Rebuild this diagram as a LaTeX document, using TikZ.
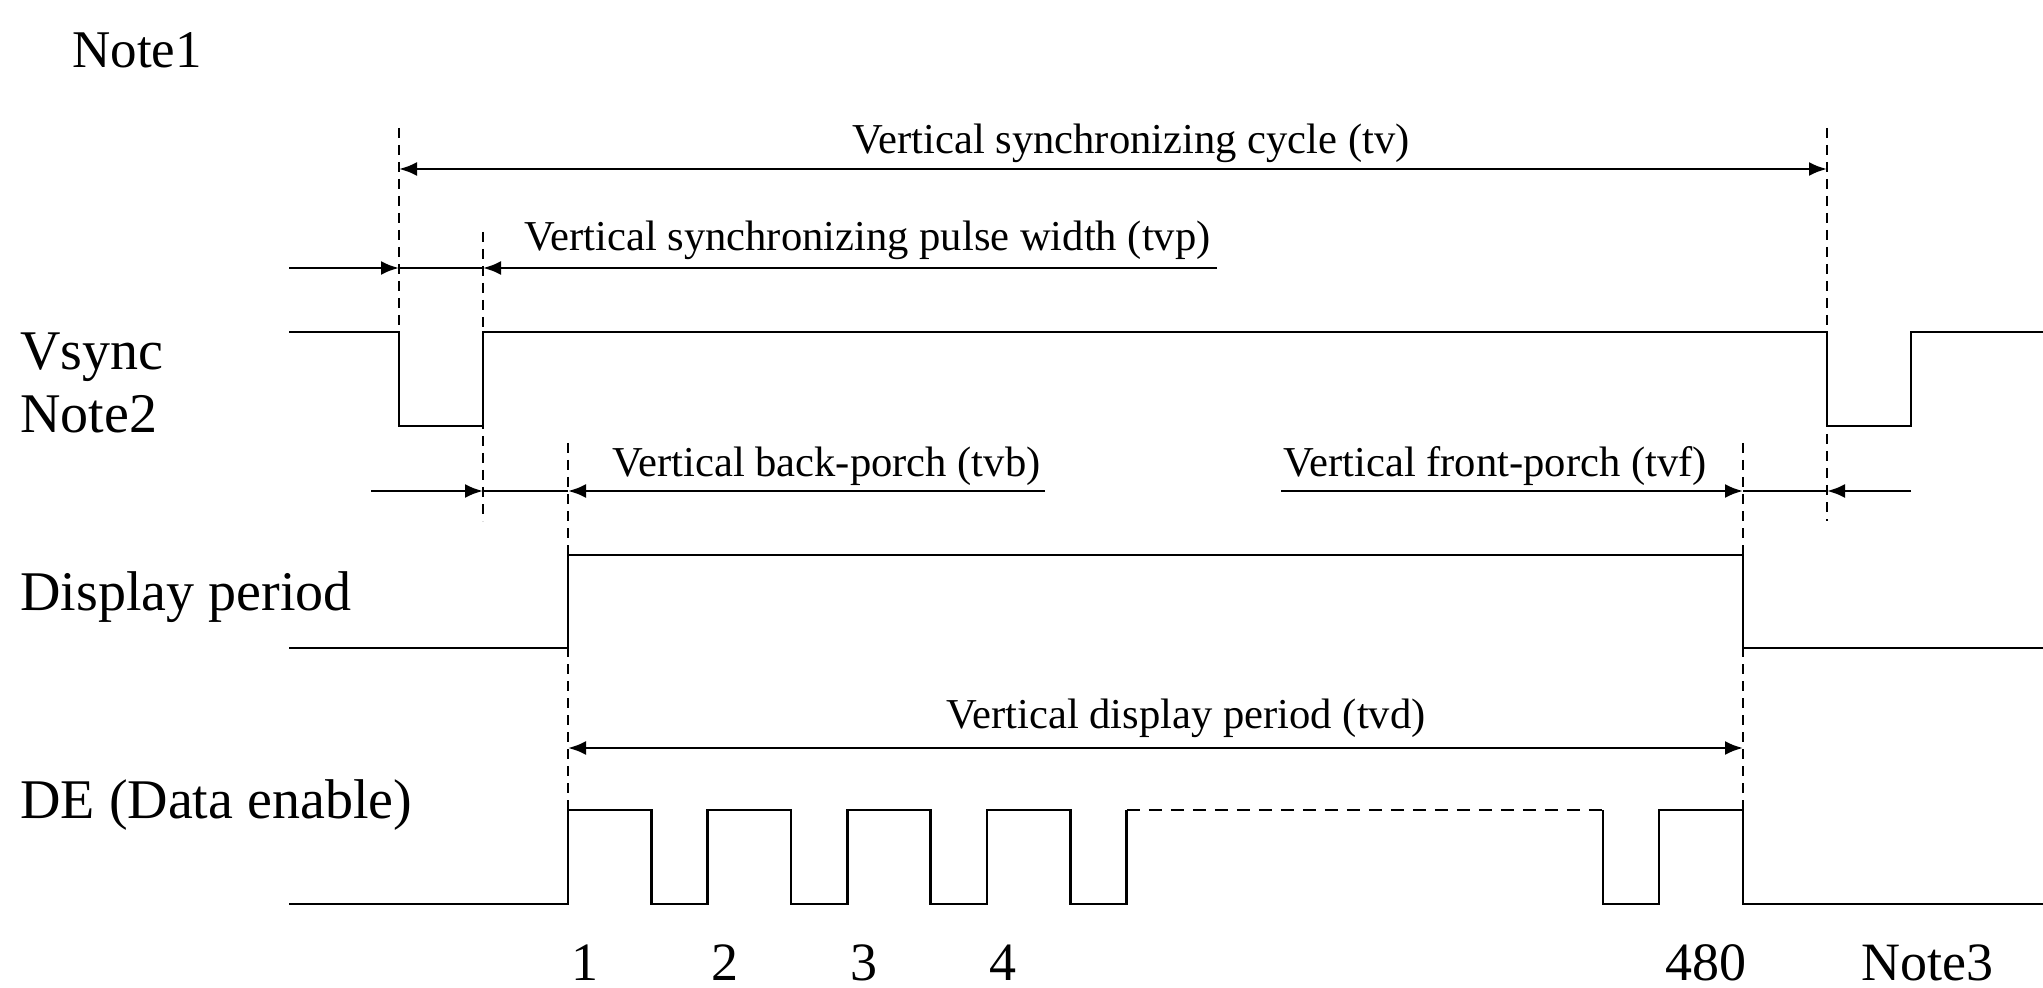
\documentclass[tikz,border=0pt]{standalone}
\usepackage{fontspec}
\setmainfont{Liberation Serif}
\usetikzlibrary{arrows.meta}
\begin{document}
\begin{tikzpicture}[x=0.5pt,y=-0.5pt,
  sig/.style={line width=1.35pt, line join=miter},
  guide/.style={line width=1.3pt, dash pattern=on 5pt off 3.5pt},
  dimline/.style={line width=1.35pt},
  tip/.tip={Latex[length=9pt,width=7pt]},
  arr/.style={-tip},
  lbl/.style={font=\fontsize{21.3}{24}\selectfont, inner sep=0pt},
  sname/.style={font=\fontsize{28}{32}\selectfont, inner sep=0pt, anchor=base west},
  num/.style={font=\fontsize{27}{30}\selectfont, inner sep=0pt, anchor=base},
]
\useasboundingbox (0,0) rectangle (2043,988);

% guide lines
\draw[guide] (399,128) -- (399,426);
\draw[guide] (483,232) -- (483,521);
\draw[guide] (1827,128) -- (1827,521);
\draw[guide] (568,443) -- (568,810);
\draw[guide] (1743,443) -- (1743,810);

% signal names
\node[sname, font=\fontsize{26.5}{30}\selectfont] (note1) at (72,68) {Note1};
\node[sname] (vsync) at (20,370) {Vsync};
\node[sname] (note2) at (20,433) {Note2};
\node[sname] (disp) at (20,610) {Display period};
\node[sname] (de) at (20,818) {DE (Data enable)};

% tv
\coordinate (tvL) at (399,169);
\coordinate (tvR) at (1827,169);
\draw[dimline, tip-tip] (tvL) -- (tvR);
\node[lbl, anchor=base] (tvlab) at (1131,154) {Vertical synchronizing cycle (tv)};

% tvp
\coordinate (p0) at (289,268);
\coordinate (p1) at (399,268);
\coordinate (p2) at (483,268);
\coordinate (p3) at (1217,268);
\draw[dimline, arr] (p0) -- (p1);
\draw[dimline] (p1) -- (p2);
\draw[dimline, arr] (p3) -- (p2);
\node[lbl, anchor=base west] (tvplab) at (524,251) {Vertical synchronizing pulse width (tvp)};

% Vsync waveform
\draw[sig] (289,332) -- (399,332) -- (399,426) -- (483,426) -- (483,332)
  -- (1827,332) -- (1827,426) -- (1911,426) -- (1911,332) -- (2043,332);

% tvb
\coordinate (b0) at (371,491);
\coordinate (b1) at (483,491);
\coordinate (b2) at (568,491);
\coordinate (b3) at (1045,491);
\draw[dimline, arr] (b0) -- (b1);
\draw[dimline] (b1) -- (b2);
\draw[dimline, arr] (b3) -- (b2);
\node[lbl, anchor=base west] (tvblab) at (612,476) {Vertical back-porch (tvb)};

% tvf
\coordinate (f0) at (1281,491);
\coordinate (f1) at (1743,491);
\coordinate (f2) at (1827,491);
\coordinate (f3) at (1911,491);
\draw[dimline, arr] (f0) -- (f1);
\draw[dimline] (f1) -- (f2);
\draw[dimline, arr] (f3) -- (f2);
\node[lbl, anchor=base west] (tvflab) at (1283,476) {Vertical front-porch (tvf)};

% Display period waveform
\draw[sig] (289,648) -- (568,648) -- (568,555) -- (1743,555) -- (1743,648) -- (2043,648);

% tvd
\coordinate (dL) at (568,748);
\coordinate (dR) at (1743,748);
\draw[dimline, tip-tip] (dL) -- (dR);
\node[lbl, anchor=base] (tvdlab) at (1186,728) {Vertical display period (tvd)};

% DE waveform
\draw[sig] (289,904) -- (568,904) -- (568,810) -- (651.4,810) -- (651.4,904)
  -- (707.7,904) -- (707.7,810) -- (791.1,810) -- (791.1,904)
  -- (847.4,904) -- (847.4,810) -- (930.8,810) -- (930.8,904)
  -- (987.1,904) -- (987.1,810) -- (1070.5,810) -- (1070.5,904)
  -- (1126.8,904) -- (1126.8,810);
\draw[line width=1.35pt, dash pattern=on 6.5pt off 4.5pt] (1126.8,810) -- (1603,810);
\draw[sig] (1603,810) -- (1603,904) -- (1659,904) -- (1659,810) -- (1743,810)
  -- (1743,904) -- (2043,904);

% numbers
\node[num] (n1) at (585,980) {1};
\node[num] (n2) at (724.5,980) {2};
\node[num] (n3) at (864,980) {3};
\node[num] (n4) at (1003,980) {4};
\node[num] (n480) at (1706,980) {480};
\node[num] (note3) at (1927,980) {Note3};
\end{tikzpicture}
\end{document}
